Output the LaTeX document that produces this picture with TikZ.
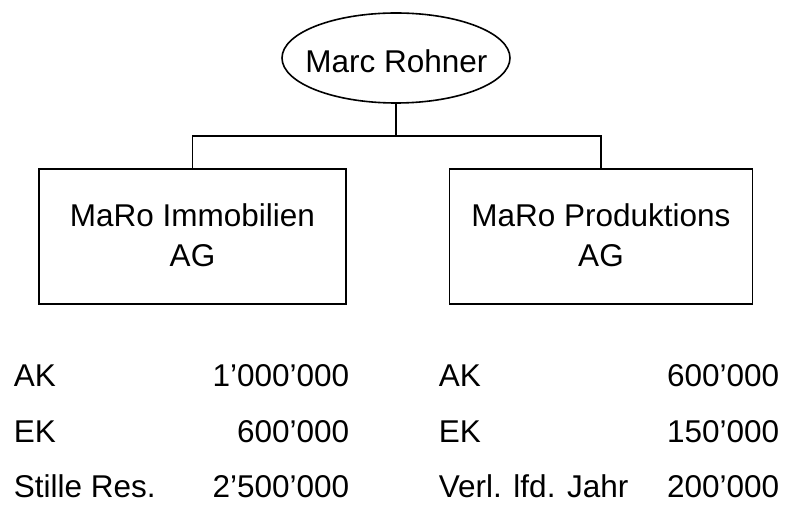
\documentclass[tikz,border=0pt]{standalone}
\usepackage{fontspec}
\setmainfont{Liberation Sans}
\usetikzlibrary{shapes.geometric}
\begin{document}
\begin{tikzpicture}[x=1pt,y=-1pt,
  line width=1.6pt,
  txt/.style={font=\fontsize{31.5}{40}\selectfont, inner sep=0pt},
  boxstyle/.style={draw, rectangle, inner sep=0pt},
  ellstyle/.style={draw, ellipse, inner sep=0pt}]
\useasboundingbox (0,0) rectangle (788,505);
% top ellipse
\node[ellstyle, minimum width=228pt, minimum height=90pt] (mr) at (396,58) {};
\node[txt, anchor=base] (mrt) at (396.5,73) {Marc Rohner};
% boxes
\node[boxstyle, minimum width=307pt, minimum height=135pt] (bl) at (192.5,236.5) {};
\node[boxstyle, minimum width=303pt, minimum height=135pt] (br) at (601,236.5) {};
\node[txt, anchor=base] (blt1) at (192.5,227) {MaRo Immobilien};
\node[txt, anchor=base] (blt2) at (192.5,267) {AG};
\node[txt, anchor=base] (brt1) at (601,227) {MaRo Produktions};
\node[txt, anchor=base] (brt2) at (601,267) {AG};
% connectors
\coordinate (j) at (396,136);
\draw (mr.south) -- (j);
\draw (bl.north) |- (j) -| (br.north);
% table
\node[txt, anchor=base west] (l1) at (13,386) {AK};
\node[txt, anchor=base west] (l2) at (13,442) {EK};
\node[txt, anchor=base west] (l3) at (13,497) {Stille Res.};
\node[txt, anchor=base east] (v1) at (350,386) {1’000’000};
\node[txt, anchor=base east] (v2) at (350,442) {600’000};
\node[txt, anchor=base east] (v3) at (350,497) {2’500’000};
\node[txt, anchor=base west] (r1) at (438,386) {AK};
\node[txt, anchor=base west] (r2) at (438,442) {EK};
\node[txt, anchor=base west] (r3) at (438,497) {Verl. lfd. Jahr};
\node[txt, anchor=base east] (w1) at (780,386) {600’000};
\node[txt, anchor=base east] (w2) at (780,442) {150’000};
\node[txt, anchor=base east] (w3) at (780,497) {200’000};
\end{tikzpicture}
\end{document}
